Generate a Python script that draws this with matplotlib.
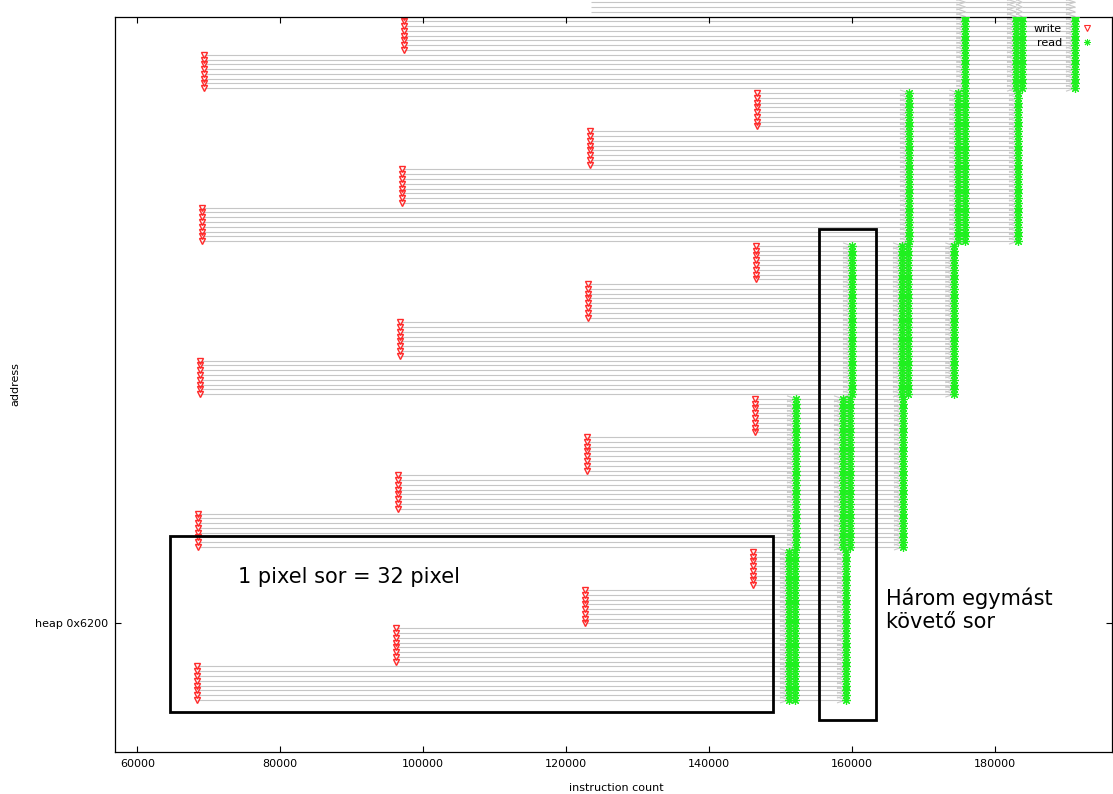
import matplotlib
matplotlib.use("Agg")
import matplotlib.pyplot as plt
from matplotlib.collections import LineCollection
from matplotlib.lines import Line2D
from matplotlib.patches import Rectangle

# ---- memory layout -------------------------------------------------------
ROWS_PER_GROUP = 8          # address rows written by one burst
GROUPS_PER_BAND = 4         # bursts that make up one band (one pixel row)
ROWS_PER_BAND = ROWS_PER_GROUP * GROUPS_PER_BAND

# instruction count of each write burst, one list per band (bottom band first)
write_band0 = [68350, 96190, 122630, 146130]
write_band1 = [68490, 96470, 122910, 146410]
write_band2 = [68770, 96750, 123050, 146550]
write_band3 = [69050, 97030, 123330, 146690]
write_band4 = [69330, 97310, 123470, 146830]
write_x = [write_band0, write_band1, write_band2, write_band3, write_band4]

# read passes: which bands each pass touches and when (the middle band of a
# pass is read twice)
pass_bands = [[0, 1], [0, 1, 2], [1, 2, 3], [2, 3, 4], [3, 4], [4]]
pass_reads = [
    [[151170, 152010], [152150]],
    [[159150], [158730, 159710], [159990]],
    [[167120], [166980, 167820], [167960]],
    [[174300], [174860, 175840], [175840]],
    [[183210], [182930, 183770]],
    [[191180]],
]

x_ticks = [60000, 80000, 100000, 120000, 140000, 160000, 180000]
y_tick_row = [16]
y_tick_labels = ["heap 0x6200"]

WRITE_STYLE = dict(linestyle="none", marker="v", ms=5.0, mew=1.0,
                   mfc="none", mec="#ff2a2a")
READ_STYLE = dict(linestyle="none", marker=(8, 2, 0), ms=6.4, mew=0.85,
                  color="#1ef01e")

# ---- figure ---------------------------------------------------------------
W, H = 1113, 794
fig = plt.figure(figsize=(W / 100, H / 100), dpi=100)
ax_l, ax_r, ax_t, ax_b = 115, 1112, 17, 752
ax = fig.add_axes([ax_l / W, 1 - ax_b / H, (ax_r - ax_l) / W, (ax_b - ax_t) / H])
xlim = (56880, 196360)
ylim = (-10.9, 142.9)
ax.set_xlim(*xlim)
ax.set_ylim(*ylim)

px_per_x = (ax_r - ax_l) / (xlim[1] - xlim[0])
px_per_row = (ax_b - ax_t) / (ylim[1] - ylim[0])
head_len = 9 / px_per_x
head_half = 3 / px_per_row

# ---- build rows -----------------------------------------------------------
segments = []
heads = []
wx, wy = [], []
rx, ry = [], []
for b, band_writes in enumerate(write_x):
    for g, wt in enumerate(band_writes):
        for k in range(ROWS_PER_GROUP):
            y = b * ROWS_PER_BAND + g * ROWS_PER_GROUP + k
            events = [wt]
            for p, bands in enumerate(pass_bands):
                if b in bands:
                    events.extend(pass_reads[p][bands.index(b)])
            wx.append(wt)
            wy.append(y)
            for t in events[1:]:
                rx.append(t)
                ry.append(y)
            for x0, x1 in zip(events[:-1], events[1:]):
                segments.append([(x0, y), (x1, y)])
                L = min(head_len, x1 - x0)
                heads.append([(x1 - L, y + head_half), (x1, y), (x1 - L, y - head_half)])

lines = LineCollection(segments, colors="#c6c6c6", linewidths=0.8, zorder=1)
lines.set_clip_on(False)
ax.add_collection(lines)
arrowheads = LineCollection(heads, colors="#cbcbcb", linewidths=0.8, zorder=1)
arrowheads.set_clip_on(False)
ax.add_collection(arrowheads)

ax.plot(wx, wy, zorder=2, label="write", **WRITE_STYLE)
ax.plot(rx, ry, zorder=3, label="read", **READ_STYLE)

# ---- annotations ----------------------------------------------------------
box_lw = 2.0
ax.add_patch(Rectangle((64575, -2.5), 148935 - 64575, 34.3 + 2.5, fill=False,
                       ec="black", lw=box_lw, zorder=5))
ax.add_patch(Rectangle((155340, -4.2), 163310 - 155340, 98.5 + 4.2, fill=False,
                       ec="black", lw=box_lw, zorder=5))
ax.text(74090, 25.7, "1 pixel sor = 32 pixel", fontsize=15, va="center",
        ha="left", zorder=6)
ax.text(164740, 18.9, "Három egymást\nkövető sor", fontsize=15, va="center",
        ha="left", linespacing=1.15, zorder=6)

# ---- axes styling ---------------------------------------------------------
ax.set_xticks(x_ticks)
ax.set_xticklabels([str(v) for v in x_ticks])
ax.set_yticks(y_tick_row)
ax.set_yticklabels(y_tick_labels)
ax.tick_params(direction="in", length=4, width=0.8, labelsize=8,
               top=True, right=True, pad=5)
for s in ax.spines.values():
    s.set_linewidth(0.9)
ax.set_xlabel("instruction count", fontsize=8, va="center")
ax.set_ylabel("address", fontsize=8, va="center")
ax.xaxis.set_label_coords(0.5025, -0.0490)
ax.yaxis.set_label_coords(-0.1003, 0.5)

legend_write = dict(WRITE_STYLE, ms=4.0, mew=0.8)
legend_read = dict(READ_STYLE, ms=5.0, mew=0.7)
handles = [Line2D([], [], **legend_write), Line2D([], [], **legend_read)]
fig.legend(handles, ["write", "read"], loc="upper right",
           bbox_to_anchor=(1093 / W, 1 - 24 / H), frameon=False,
           markerfirst=False, fontsize=8, handlelength=1.0,
           handletextpad=1.8, labelspacing=0.35, borderpad=0,
           borderaxespad=0)

fig.savefig("out.png", dpi=100)
